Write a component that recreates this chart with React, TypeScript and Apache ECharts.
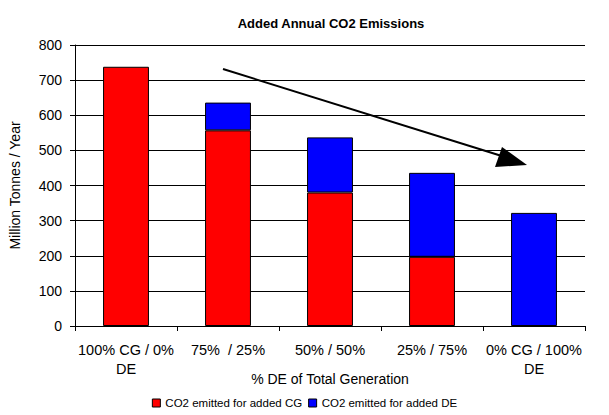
import React, { useEffect, useRef } from "react";
import * as echarts from "echarts";

const categories = ["100% CG / 0%\nDE", "75%  / 25%", "50% / 50%", "25% / 75%", "0% CG / 100%\nDE"];
const cgValues = [738, 557, 380, 197, 0];
const deValues = [0, 79, 157, 239, 322];
const yTicks = { min: 0, max: 800, interval: 100 };

export default function App() {
  const ref = useRef<HTMLDivElement>(null);
  useEffect(() => {
    const chart = echarts.init(ref.current!, null, { renderer: "svg" });
    const font = "'Liberation Sans', Arial, sans-serif";
    const clean = (a: number[]) => a.map((v) => (v === 0 ? "-" : v));
    chart.setOption({
      animation: false,
      backgroundColor: "#fff",
      textStyle: { fontFamily: font },
      title: {
        text: "Added Annual CO2 Emissions",
        left: 326,
        top: 12,
        textAlign: "center",
        textStyle: { fontSize: 13, fontWeight: "bold", color: "#000", fontFamily: font },
      },
      grid: { left: 68, right: 24, top: 45, bottom: 89 },
      legend: {
        bottom: 1,
        left: "center",
        itemWidth: 8,
        itemHeight: 8,
        itemGap: 6,
        textStyle: { fontSize: 11.5, color: "#000", fontFamily: font },
        data: [
          { name: "CO2 emitted for added CG", icon: "rect", itemStyle: { borderColor: "#000", borderWidth: 1 } },
          { name: "CO2 emitted for added DE", icon: "rect", itemStyle: { borderColor: "#000", borderWidth: 1 } },
        ],
      },
      xAxis: {
        type: "category",
        data: categories,
        name: "% DE of Total Generation",
        nameLocation: "middle",
        nameGap: 46,
        nameMoveOverlap: false,
        nameTextStyle: { fontSize: 14, color: "#000", fontFamily: font },
        axisLine: { lineStyle: { color: "#000" } },
        axisTick: { show: true, length: 5, lineStyle: { color: "#000" } },
        axisLabel: { fontSize: 14.5, color: "#000", margin: 14, lineHeight: 19, fontFamily: font, interval: 0 },
      },
      yAxis: {
        type: "value",
        min: yTicks.min,
        max: yTicks.max,
        interval: yTicks.interval,
        name: "Million Tonnes / Year",
        nameLocation: "middle",
        nameGap: 53,
        nameMoveOverlap: false,
        nameTextStyle: { fontSize: 14, color: "#000", fontFamily: font },
        axisLine: { show: true, lineStyle: { color: "#000" } },
        axisTick: { show: true, length: 5, lineStyle: { color: "#000" } },
        axisLabel: { fontSize: 14, color: "#000", margin: 13, fontFamily: font },
        splitLine: { lineStyle: { color: "#000", width: 1 } },
      },
      series: [
        {
          name: "CO2 emitted for added CG",
          type: "bar",
          stack: "total",
          data: clean(cgValues),
          barWidth: "45%",
          itemStyle: { color: "#ff0000", borderColor: "#000", borderWidth: 1 },
        },
        {
          name: "CO2 emitted for added DE",
          type: "bar",
          stack: "total",
          data: clean(deValues),
          barWidth: "45%",
          itemStyle: { color: "#0000ff", borderColor: "#000", borderWidth: 1 },
        },
      ],
      graphic: [
        { type: "line", shape: { x1: 223, y1: 69, x2: 505, y2: 157 }, style: { stroke: "#000", lineWidth: 2 } },
        { type: "polygon", shape: { points: [[527, 165], [502, 147], [495, 167]] }, style: { fill: "#000" } },
      ],
    });
    return () => chart.dispose();
  }, []);
  return <div ref={ref} style={{ width: 609, height: 415, position: "fixed", left: 0, top: 0 }} />;
}
